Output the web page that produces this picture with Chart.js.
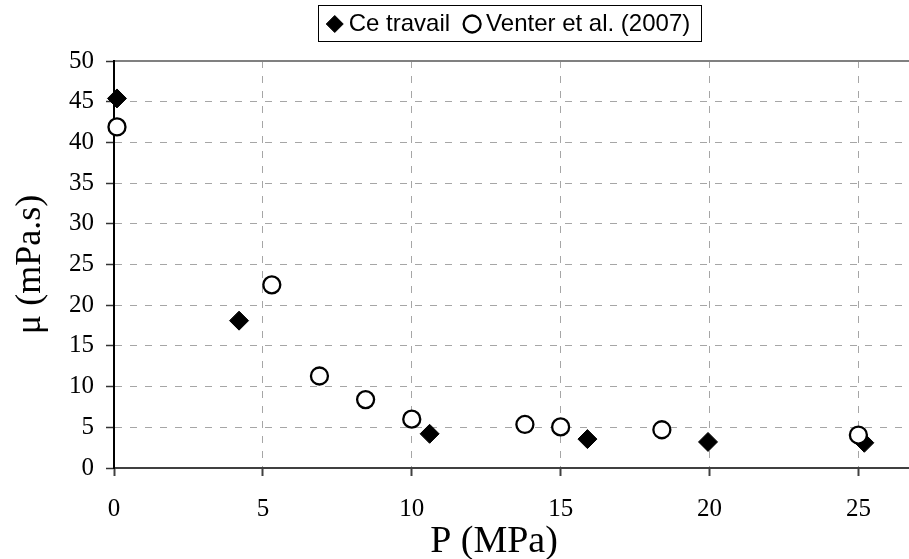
<!DOCTYPE html>
<html lang="fr">
<head>
<meta charset="utf-8">
<title>Viscosité en fonction de la pression</title>
<script src="https://cdn.jsdelivr.net/npm/chart.js@4.4.1/dist/chart.umd.min.js"></script>
<style>
    body { margin: 0; background: #fff; }
    canvas { display: block; }
</style>
</head>
<body>
<canvas id="myGraf" width="909" height="559"></canvas>
<script>
// Ce travail
var pressionCe = [0.1, 4.2, 10.6, 15.9, 19.95, 25.2];
var viscositeCe = [45.4, 18.1, 4.2, 3.55, 3.2, 3.1];

// Venter et al. (2007)
var pressionVenter = [0.1, 5.3, 6.9, 8.45, 10.0, 13.8, 15.0, 18.4, 25.0];
var viscositeVenter = [41.9, 22.5, 11.3, 8.4, 6.0, 5.35, 5.05, 4.7, 4.05];

var ticksX = [0, 5, 10, 15, 20, 25];
var ticksY = [0, 5, 10, 15, 20, 25, 30, 35, 40, 45, 50];

var labelCe = "Ce travail";
var labelVenter = "Venter et al. (2007)";
var titreX = "P (MPa)";
var titreY = "μ (mPa.s)";


function points(xs, ys) {
    return xs.map(function(x, i) {
        return {x: x, y: ys[i]};
    });
}

// cadre noir autour de la légende
var cadreLegende = {
    id: 'cadreLegende',
    afterDraw: function(chart) {
        var boxes = chart.legend.legendHitBoxes;
        if (!boxes || !boxes.length) return;
        var last = boxes[boxes.length - 1];
        var gauche = Math.round(boxes[0].left - 15);
        var droite = Math.round(last.left + last.width + 11);
        var haut = Math.round(boxes[0].top - 7);
        var ctx = chart.ctx;
        ctx.save();
        ctx.strokeStyle = '#000';
        ctx.lineWidth = 1;
        ctx.strokeRect(gauche + 0.5, haut + 0.5, droite - gauche, 36);
        ctx.restore();
    }
};

// titre de l'axe X (un peu décalé à gauche du centre)
var titreAxeX = {
    id: 'titreAxeX',
    afterDraw: function(chart) {
        var area = chart.chartArea;
        var ctx = chart.ctx;
        ctx.save();
        ctx.font = '38px "Liberation Serif"';
        ctx.fillStyle = '#000';
        ctx.textAlign = 'center';
        ctx.textBaseline = 'alphabetic';
        ctx.fillText(titreX, (area.left + area.right) / 2 - 17.5, area.bottom + 84);
        ctx.restore();
    }
};

Chart.defaults.font.family = '"Liberation Serif", "Times New Roman", serif';
Chart.defaults.color = '#000';

var ctx = document.getElementById('myGraf').getContext('2d');

var myGraf = new Chart(ctx, {
    type: 'scatter',
    data: {
        datasets: [{
            label: labelCe,
            data: points(pressionCe, viscositeCe),
            xAxisID: 'x',
            yAxisID: 'y',
            pointStyle: 'rectRot',
            pointRadius: 9.5,
            pointBackgroundColor: '#000',
            pointBorderColor: '#000',
            pointBorderWidth: 1,
            backgroundColor: '#000',
            borderColor: '#000',
            borderWidth: 1,
            order: 1,
            clip: false
        }, {
            label: labelVenter,
            data: points(pressionVenter, viscositeVenter),
            xAxisID: 'x',
            yAxisID: 'y',
            pointStyle: 'circle',
            pointRadius: 8.5,
            pointBackgroundColor: '#fff',
            pointBorderColor: '#000',
            pointBorderWidth: 2.3,
            backgroundColor: '#fff',
            borderColor: '#000',
            borderWidth: 2.3,
            order: 0,
            clip: false
        }]
    },
    options: {
        responsive: false,
        animation: false,
        devicePixelRatio: 1,
        events: [],
        layout: {
            autoPadding: false,
            padding: { top: -8, left: 0, right: 0, bottom: 0 }
        },
        plugins: {
            tooltip: { enabled: false },
            legend: {
                display: true,
                position: 'top',
                fullSize: false,
                labels: {
                    usePointStyle: true,
                    boxWidth: 4,
                    boxHeight: 12,
                    padding: 20,
                    color: '#000',
                    font: { family: '"Liberation Sans", Arial, sans-serif', size: 24 },
                    sort: function(a, b) { return a.datasetIndex - b.datasetIndex; }
                }
            }
        },
        scales: {
            x: {
                type: 'linear',
                position: 'bottom',
                min: 0,
                max: 26.7,
                afterBuildTicks: function(scale) {
                    scale.ticks = ticksX.map(function(v) { return {value: v}; });
                },
                afterFit: function(scale) { scale.height = 91; },
                grid: { color: '#a6a6a6', lineWidth: 1, tickLength: 8, tickColor: '#404040', tickWidth: 2 },
                border: { color: '#404040', width: 2, dash: [7, 8] },
                ticks: { color: '#000', font: { size: 25 }, padding: 18, maxRotation: 0, autoSkip: false }
            },
            x2: {
                type: 'linear',
                position: 'top',
                min: 0,
                max: 1,
                grid: { display: false },
                ticks: { display: false },
                border: { color: '#808080', width: 2 },
                afterFit: function(scale) { scale.height = 15; }
            },
            y: {
                type: 'linear',
                position: 'left',
                min: 0,
                max: 50,
                afterBuildTicks: function(scale) {
                    scale.ticks = ticksY.map(function(v) { return {value: v}; });
                },
                afterFit: function(scale) { scale.width = 114; },
                grid: { color: '#a6a6a6', lineWidth: 1, tickLength: 8, tickColor: '#333', tickWidth: 1.5 },
                border: { color: '#000', width: 2, dash: [7, 8] },
                ticks: { color: '#000', font: { size: 25 }, padding: 12, autoSkip: false },
                title: {
                    display: true,
                    text: titreY,
                    color: '#000',
                    font: { size: 36 },
                    padding: { top: 9, bottom: 0 }
                }
            }
        }
    },
    plugins: [cadreLegende, titreAxeX]
});
</script>
</body>
</html>
